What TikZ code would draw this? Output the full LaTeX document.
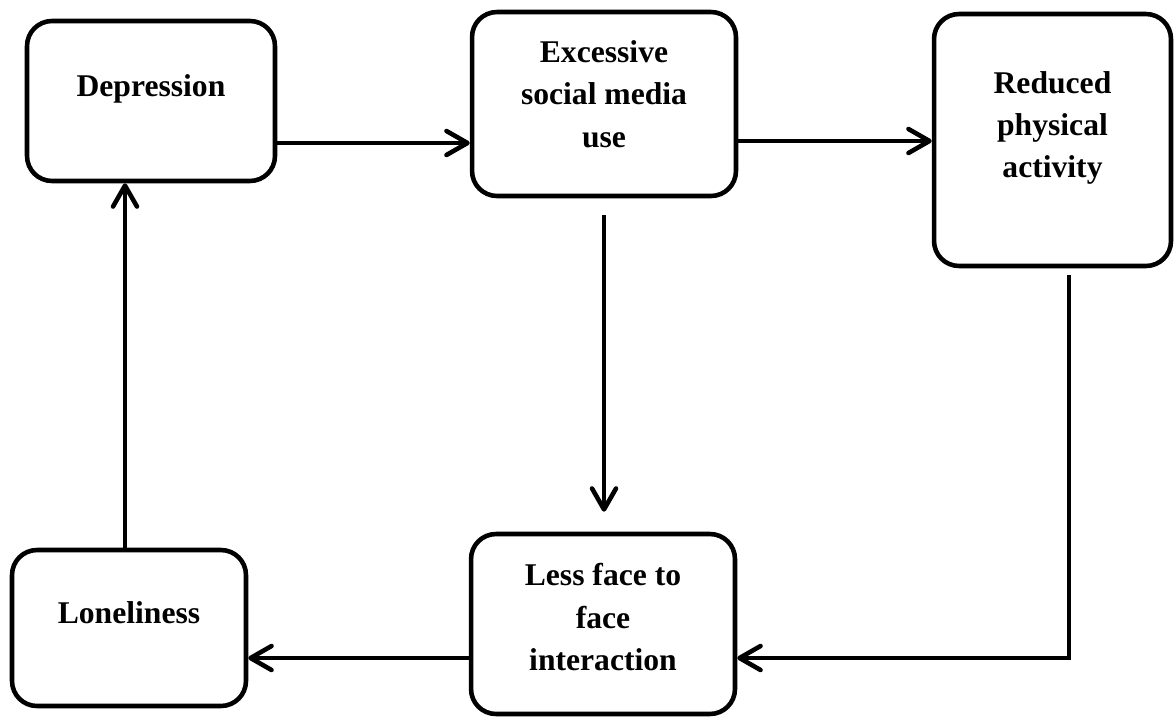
\documentclass[tikz,border=0pt]{standalone}
\usepackage{fontspec}
\setmainfont{Liberation Serif}
\usetikzlibrary{arrows.meta}
\newcommand\lift[1]{\rule[-#1]{0pt}{#1}}
\tikzset{
  box/.style={draw,line width=2.6pt,rounded corners=0.5cm,align=center,
    font=\fontsize{18}{24}\selectfont\bfseries},
  link/.style={line width=2.6pt,-{Straight Barb[length=0.42cm,width=0.48cm,round]}}
}
\begin{document}
\begin{tikzpicture}[x=0.02cm,y=-0.02cm]
\useasboundingbox (0,0) rectangle (1175,717);
   \foreach \x/\y/\w/\h/\l/\t/\n in
        {151/101/4.96/3.2/0.62cm/Depression/dep,
         604/104/5.28/3.68/0.4cm/{Excessive\\social media\\use}/exc,
         1052.5/140/4.74/5.04/0.62cm/{Reduced\\physical\\activity}/red,
         129/628/4.68/3.12/0.61cm/Loneliness/lon,
         603/624/5.28/3.6/0.28cm/{Less face to\\face\\interaction}/less}
           \node[box,minimum width=\w cm,minimum height=\h cm](\n) at (\x,\y){\t\lift{\l}};
\draw[link] (dep.east |- 0,143) -- (exc.west |- 0,143);
\draw[link] (exc.east |- 0,141) -- (red.west |- 0,141);
\draw[link,shorten <=0.34cm,shorten >=0.4cm] (exc.south) -- (exc.south |- less.north);
\draw[link,shorten <=0.14cm] (red.south -| 1069,0) |- (less.east |- 0,658);
\draw[link] (less.west |- 0,658) -- (lon.east |- 0,658);
\draw[link] (lon.north -| 125,0) -- (dep.south -| 125,0);

\end{tikzpicture}
\end{document}
